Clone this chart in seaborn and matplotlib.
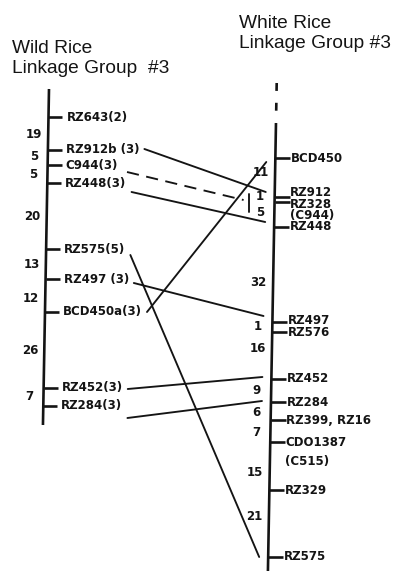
import matplotlib
matplotlib.use("Agg")
import matplotlib.pyplot as plt
import seaborn as sns
import pandas as pd

# ---------------- data ----------------
wild_title = ["Wild Rice", "Linkage Group  #3"]
white_title = ["White Rice", "Linkage Group #3"]

# wild rice chromosome (positions along the drawn map)
wild_extent = [89, 425]
wild_markers = ["RZ643(2)", "RZ912b (3)", "C944(3)", "RZ448(3)", "RZ575(5)",
                "RZ497 (3)", "BCD450a(3)", "RZ452(3)", "RZ284(3)"]
wild_pos = [117, 150, 165, 183, 249, 279, 312, 388, 406]
wild_intervals = ["19", "5", "5", "20", "13", "12", "26", "7"]
wild_interval_pos = [135, 157, 174, 217, 265, 298, 351, 397]

# white rice chromosome
white_extent = [123, 571]
white_dashed_extent = [83, 112]
white_markers = ["BCD450", "RZ912", "RZ328", "(C944)", "RZ448", "RZ497", "RZ576",
                 "RZ452", "RZ284", "RZ399, RZ16", "CDO1387", "(C515)", "RZ329", "RZ575"]
white_pos = [158, 197, 202, 215, 227, 322, 332, 379, 402, 420, 442, 462, 490, 557]
white_label_pos = [158, 192, 204, 215, 227, 321, 332, 379, 402, 420, 442, 462, 490, 557]
white_has_tick = [1, 1, 1, 0, 1, 1, 1, 1, 1, 1, 1, 0, 1, 1]
white_intervals = ["11", "1", "5", "32", "1", "16", "9", "6", "7", "15", "21"]
white_interval_pos = [173, 197, 213, 283, 327, 349, 391, 413, 432, 472, 517]

# links between homologous markers
link_wild = ["RZ912b (3)", "RZ448(3)", "RZ575(5)", "RZ497 (3)", "BCD450a(3)", "RZ452(3)", "RZ284(3)"]
link_from = [149, 192, 255, 283, 312, 389, 418]
link_to = [192, 222, 557, 316, 162, 377, 401]
dashed_wild = "C944(3)"
dashed_from = 172
dashed_to = 200
c944_bracket = [194, 212]

# ---------------- layout / style ----------------
FIG_W, FIG_H, DPI = 401, 571, 100
TILT = -0.018          # scan is slightly rotated
WILD_X, WHITE_X = 48.8, 276.4
INK = "#141414"

sns.set_theme(style="white")
plt.rcParams["font.family"] = ["Liberation Sans", "DejaVu Sans"]

fig = plt.figure(figsize=(FIG_W / DPI, FIG_H / DPI), dpi=DPI)
fig.patch.set_facecolor("white")
ax = fig.add_axes([0, 0, 1, 1])
ax.set_xlim(0, FIG_W)
ax.set_ylim(FIG_H, 0)
ax.axis("off")


def bx(base, y):
    return base + TILT * (y - 100)


BAR_LW = 1.9
LINK_LW = 1.35
SMALL_FONT = ["DejaVu Sans"]
LBL = dict(fontsize=8.5, fontweight="bold", color=INK, va="center", family=SMALL_FONT)
NUM = dict(fontsize=8.5, fontweight="bold", color=INK, va="center", ha="center",
           family=SMALL_FONT)

# titles
ax.text(12, 53, wild_title[0], fontsize=13.8, color=INK, va="baseline", ha="left")
ax.text(12, 73, wild_title[1], fontsize=13.8, color=INK, va="baseline", ha="left")
ax.text(239, 28, white_title[0], fontsize=13.8, color=INK, va="baseline", ha="left")
ax.text(239, 48, white_title[1], fontsize=13.8, color=INK, va="baseline", ha="left")

# wild chromosome
ax.plot([bx(WILD_X, wild_extent[0]), bx(WILD_X, wild_extent[1])], wild_extent,
        color=INK, lw=BAR_LW, solid_capstyle="butt")
wild_text = {}
for name, y in zip(wild_markers, wild_pos):
    x0 = bx(WILD_X, y)
    ax.plot([x0, x0 + 14], [y, y], color=INK, lw=BAR_LW, solid_capstyle="butt")
    wild_text[name] = ax.text(x0 + 18, y, name, ha="left", **LBL)
for s, y in zip(wild_intervals, wild_interval_pos):
    ax.text(bx(WILD_X, y) - 14, y, s, **NUM)

# white chromosome
ax.plot([bx(WHITE_X, white_extent[0]), bx(WHITE_X, white_extent[1])], white_extent,
        color=INK, lw=BAR_LW, solid_capstyle="butt")
ax.plot([bx(WHITE_X, white_dashed_extent[0]), bx(WHITE_X, white_dashed_extent[1])],
        white_dashed_extent, color=INK, lw=BAR_LW, linestyle=(0, (3.0, 4.5)),
        solid_capstyle="butt", dash_capstyle="butt")
for name, y, yl, t in zip(white_markers, white_pos, white_label_pos, white_has_tick):
    x0 = bx(WHITE_X, y)
    if t:
        ax.plot([x0, x0 + 15], [y, y], color=INK, lw=BAR_LW, solid_capstyle="butt")
    ax.text(bx(WHITE_X, yl) + 15.5, yl, name, ha="left", **LBL)
for s, y in zip(white_intervals, white_interval_pos):
    ax.text(bx(WHITE_X, y) - 14.5, y, s, **NUM)

# measure label ends to start the links just after them
fig.canvas.draw()
renderer = fig.canvas.get_renderer()
inv = ax.transData.inverted()


def label_end(name):
    bb = wild_text[name].get_window_extent(renderer)
    return inv.transform((bb.x1, bb.y0))[0]


rows = []
for i, (name, y0, y1) in enumerate(zip(link_wild, link_from, link_to)):
    rows.append({"link": i, "x": label_end(name) + 5, "y": y0})
    rows.append({"link": i, "x": bx(WHITE_X, y1) - 9, "y": y1})
links = pd.DataFrame(rows)
sns.lineplot(data=links, x="x", y="y", units="link", estimator=None, sort=False,
             color=INK, lw=LINK_LW, legend=False, ax=ax)

# dashed (uncertain) C944 link and its bracket
bracket_x = bx(WHITE_X, dashed_to) - 26
ax.plot([label_end(dashed_wild) + 9, bracket_x - 5], [dashed_from, dashed_to],
        color=INK, lw=LINK_LW, linestyle=(0, (6.5, 4)))
ax.plot([bracket_x, bracket_x], c944_bracket, color=INK, lw=LINK_LW)

ax.set_xlim(0, FIG_W)
ax.set_ylim(FIG_H, 0)
ax.set_xlabel("")
ax.set_ylabel("")
fig.savefig("out.png", dpi=DPI, facecolor="white")
